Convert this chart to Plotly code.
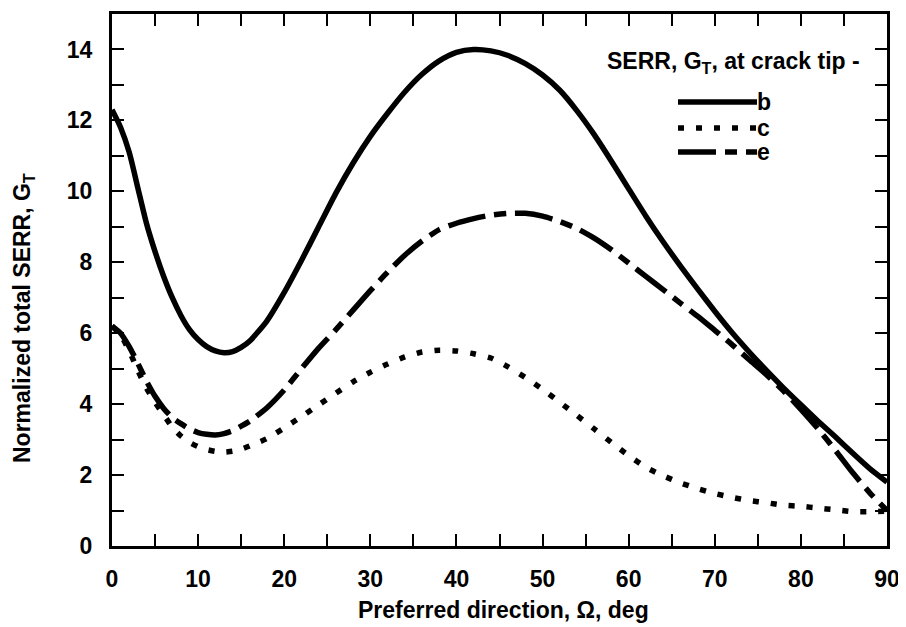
import plotly.graph_objects as go

# ---------------- data ----------------
omega = [0, 1, 2, 3, 4, 5, 6, 7, 8, 9, 10, 11, 12, 13, 14, 15, 16, 18, 20, 22, 24, 26, 28,
         30, 32, 34, 36, 38, 40, 42, 44, 46, 48, 50, 52, 54, 56, 58, 60, 62, 64, 66, 68,
         70, 72, 74, 76, 78, 80, 82, 84, 86, 88, 90]

g_b = [12.3, 11.8, 11.1, 10.1, 9.1, 8.3, 7.6, 7.0, 6.5, 6.1, 5.82, 5.62, 5.5, 5.45, 5.48,
       5.6, 5.78, 6.35, 7.15, 8.05, 9.0, 9.95, 10.8, 11.55, 12.2, 12.8, 13.3, 13.68, 13.92, 14.0,
       13.96, 13.83, 13.6, 13.28, 12.85, 12.27, 11.6, 10.85, 10.07, 9.3, 8.58, 7.9, 7.25, 6.62,
       6.02, 5.47, 4.95, 4.45, 3.98, 3.52, 3.08, 2.62, 2.18, 1.8]

g_c = [6.2, 5.95, 5.5, 4.95, 4.45, 4.05, 3.7, 3.35, 3.1, 2.92, 2.8, 2.72, 2.67, 2.65, 2.67,
       2.73, 2.82, 3.03, 3.33, 3.65, 3.98, 4.31, 4.63, 4.9, 5.13, 5.33, 5.47, 5.52, 5.5, 5.42,
       5.3, 5.05, 4.75, 4.42, 4.05, 3.68, 3.3, 2.92, 2.55, 2.22, 1.98, 1.78, 1.62, 1.48,
       1.37, 1.28, 1.22, 1.15, 1.12, 1.07, 1.02, 0.97, 0.97, 0.98]

g_e = [6.2, 6.0, 5.62, 5.15, 4.65, 4.22, 3.88, 3.62, 3.45, 3.3, 3.2, 3.15, 3.13, 3.17, 3.25,
       3.38, 3.52, 3.9, 4.4, 5.0, 5.58, 6.1, 6.65, 7.2, 7.72, 8.2, 8.6, 8.92, 9.1, 9.23,
       9.33, 9.38, 9.38, 9.3, 9.15, 8.95, 8.68, 8.35, 7.98, 7.6, 7.23, 6.85, 6.48, 6.08,
       5.68, 5.25, 4.83, 4.37, 3.85, 3.3, 2.7, 2.07, 1.5, 1.0]

series_names = ["b", "c", "e"]
x_tickvals = list(range(0, 95, 5))
x_ticktext = [str(v) if v % 10 == 0 else "" for v in x_tickvals]
y_tickvals = list(range(0, 16))
y_ticktext = [str(v) if v % 2 == 0 and v <= 14 else "" for v in y_tickvals]

x_title = "Preferred direction, Ω, deg"
y_title = "Normalized total SERR, G<sub>T</sub>"
legend_title = "SERR, G<sub>T</sub>, at crack tip -"

# ---------------- styles ----------------
FONT = "Liberation Sans, Arial, sans-serif"
dash_styles = {"b": "solid", "c": "6px,12px", "e": "38px,9px,12px,9px"}

fig = go.Figure()
for name, vals in zip(series_names, [g_b, g_c, g_e]):
    fig.add_trace(go.Scatter(
        x=omega, y=vals, mode="lines", name=name,
        line=dict(color="black", width=5.5, dash=dash_styles[name], shape="spline", smoothing=0.6),
        showlegend=False,
    ))

axis_common = dict(
    showline=True, linecolor="black", linewidth=3, mirror="ticks",
    ticks="inside", ticklen=12, tickwidth=2, tickcolor="black",
    showgrid=False, zeroline=False, automargin=False,
    tickfont=dict(family=FONT, size=23, color="black", weight=700),
)

fig.update_xaxes(range=[0, 90], tickmode="array", tickvals=x_tickvals, ticktext=x_ticktext,
                 ticklabelstandoff=10, **axis_common)
fig.update_yaxes(range=[0, 15], tickmode="array", tickvals=y_tickvals, ticktext=y_ticktext,
                 ticklabelstandoff=12, **axis_common)

# page offset (browser body margin)
OFF = 8
W, H = 906, 627
# desired plot box in page pixels: left 112, right 887, top 14, bottom 546
L, R, T, B = 112 - OFF, W - 887 + OFF, 14 - OFF, H - 546 + OFF
pw, ph = W - L - R, H - T - B


def px_x(p):
    return (p - OFF - L) / pw


def px_y(p):
    return (H - B - (p - OFF)) / ph


annotations = [
    dict(text=x_title, x=px_x(503), y=px_y(610), xref="paper", yref="paper",
         showarrow=False, xanchor="center", yanchor="middle",
         font=dict(family=FONT, size=23, color="black", weight=700)),
    dict(text=y_title, x=px_x(23), y=px_y(318), xref="paper", yref="paper",
         showarrow=False, xanchor="center", yanchor="middle", textangle=-90,
         font=dict(family=FONT, size=23, color="black", weight=700)),
    dict(text=legend_title, x=px_x(862), y=px_y(63), xref="paper", yref="paper",
         showarrow=False, xanchor="right", yanchor="middle",
         font=dict(family=FONT, size=23, color="black", weight=700)),
]

shapes = []
legend_rows = [102, 128, 152]
for name, row in zip(series_names, legend_rows):
    shapes.append(dict(type="line", xref="paper", yref="paper",
                       x0=px_x(678), x1=px_x(757), y0=px_y(row), y1=px_y(row),
                       line=dict(color="black", width=5.5, dash=dash_styles[name])))
    annotations.append(dict(text=name, x=px_x(755), y=px_y(row), xref="paper", yref="paper",
                            showarrow=False, xanchor="left", yanchor="middle",
                            font=dict(family=FONT, size=23, color="black", weight=700)))

fig.update_layout(
    width=W, height=H,
    margin=dict(l=L, r=R, t=T, b=B),
    paper_bgcolor="white", plot_bgcolor="white",
    annotations=annotations, shapes=shapes,
    showlegend=False,
)

fig.write_html("out.html")
